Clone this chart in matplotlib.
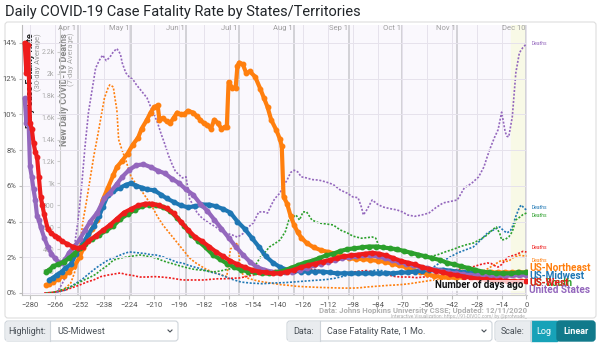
import matplotlib.pyplot as plt
from matplotlib.patches import FancyBboxPatch, Rectangle
from matplotlib.ticker import FuncFormatter, FixedLocator
import matplotlib.transforms as mtransforms

plt.rcParams['font.family'] = ['Roboto', 'DejaVu Sans']

# ---- case fatality rate, 30-day average (%) : (days ago, value) ----
west_cfr = [(-283, 14.0), (-282, 12.3), (-281, 13.9), (-280, 9.5), (-279, 9.2), (-278, 8.4), (-277, 7.9),
            (-276, 7.6), (-275, 6.5), (-274, 5.4), (-273, 4.9), (-272, 4.4), (-270, 3.6), (-268, 3.35),
            (-266, 3.2), (-264, 3.1), (-262, 2.9), (-259, 2.75), (-256, 2.6), (-253, 2.5), (-250, 2.6),
            (-247, 2.9), (-243, 3.2), (-239, 3.5), (-235, 3.8), (-231, 4.15), (-227, 4.5), (-223, 4.7),
            (-219, 4.9), (-215, 5.0), (-211, 5.0), (-207, 4.9), (-203, 4.75), (-199, 4.45), (-195, 4.0),
            (-191, 3.55), (-187, 3.15), (-183, 2.9), (-179, 2.6), (-175, 2.3), (-171, 2.05), (-167, 1.8),
            (-163, 1.6), (-159, 1.45), (-155, 1.3), (-151, 1.2), (-147, 1.15), (-143, 1.1), (-139, 1.1),
            (-135, 1.2), (-131, 1.3), (-127, 1.45), (-123, 1.55), (-119, 1.65), (-115, 1.75), (-111, 1.85),
            (-107, 1.95), (-103, 2.05), (-99, 2.1), (-95, 2.15), (-91, 2.2), (-87, 2.25), (-83, 2.2),
            (-79, 2.1), (-75, 1.95), (-71, 1.8), (-67, 1.7), (-63, 1.6), (-59, 1.45), (-55, 1.35),
            (-51, 1.25), (-47, 1.15), (-43, 1.05), (-39, 1.0), (-35, 0.92), (-31, 0.85), (-27, 0.8),
            (-23, 0.76), (-19, 0.72), (-15, 0.7), (-11, 0.68), (-7, 0.66), (-3, 0.65), (0, 0.65)]

us_cfr = [(-283, 10.9), (-282, 9.5), (-281, 10.3), (-280, 7.1), (-279, 6.5), (-278, 5.8), (-277, 5.2),
          (-276, 4.3), (-275, 4.1), (-274, 3.7), (-272, 3.1), (-270, 2.6), (-268, 2.2), (-266, 1.95),
          (-264, 1.75), (-262, 1.7), (-260, 1.9), (-258, 2.25), (-255, 2.6), (-252, 3.0), (-249, 3.5),
          (-246, 4.0), (-242, 4.5), (-238, 5.3), (-235, 5.6), (-231, 6.1), (-228, 6.5), (-224, 6.9),
          (-220, 7.15), (-216, 7.2), (-212, 7.05), (-208, 6.85), (-204, 6.7), (-200, 6.4), (-196, 6.15),
          (-192, 5.8), (-188, 5.5), (-184, 5.0), (-180, 4.6), (-176, 4.1), (-172, 3.6), (-168, 3.1),
          (-164, 2.6), (-160, 2.15), (-156, 1.75), (-152, 1.45), (-148, 1.3), (-144, 1.2), (-140, 1.15),
          (-136, 1.15), (-132, 1.2), (-128, 1.3), (-124, 1.4), (-120, 1.55), (-116, 1.65), (-112, 1.75),
          (-108, 1.85), (-104, 1.95), (-100, 2.0), (-96, 2.05), (-92, 2.1), (-88, 2.1), (-84, 2.05),
          (-80, 1.95), (-76, 1.85), (-72, 1.75), (-68, 1.65), (-64, 1.55), (-60, 1.45), (-56, 1.4),
          (-52, 1.3), (-48, 1.25), (-44, 1.15), (-40, 1.1), (-36, 1.05), (-32, 1.0), (-28, 0.98),
          (-24, 0.95), (-20, 0.95), (-16, 0.95), (-12, 0.97), (-8, 0.98), (-4, 1.0), (0, 1.0)]

midwest_cfr = [(-269, 0.75), (-267, 0.85), (-265, 1.0), (-262, 1.2), (-260, 1.4), (-257, 1.6), (-254, 2.2),
               (-250, 2.8), (-247, 3.3), (-244, 3.75), (-241, 4.3), (-239, 4.8), (-236, 5.5), (-233, 5.7),
               (-229, 5.9), (-226, 6.05), (-223, 6.15), (-220, 6.0), (-217, 5.9), (-214, 5.8), (-210, 5.75),
               (-206, 5.5), (-203, 5.3), (-199, 5.1), (-195, 4.9), (-191, 4.8), (-187, 4.85), (-183, 4.95),
               (-179, 4.95), (-175, 4.85), (-171, 4.7), (-167, 4.5), (-163, 4.0), (-159, 3.6), (-155, 3.1),
               (-151, 2.6), (-147, 2.05), (-143, 1.7), (-139, 1.45), (-135, 1.3), (-131, 1.25), (-127, 1.2),
               (-123, 1.2), (-119, 1.2), (-115, 1.2), (-111, 1.15), (-107, 1.1), (-103, 1.1), (-99, 1.1),
               (-95, 1.1), (-91, 1.1), (-87, 1.1), (-83, 1.1), (-79, 1.1), (-75, 1.1), (-71, 1.15),
               (-67, 1.15), (-63, 1.2), (-59, 1.25), (-55, 1.3), (-51, 1.3), (-47, 1.3), (-43, 1.25),
               (-39, 1.2), (-35, 1.15), (-31, 1.1), (-27, 1.05), (-23, 1.05), (-19, 1.05), (-15, 1.05),
               (-11, 1.05), (-7, 1.05), (-3, 1.05), (0, 1.05)]

south_cfr = [(-271, 1.2), (-269, 1.3), (-267, 1.5), (-264, 1.6), (-261, 1.75), (-258, 1.95), (-255, 2.2),
             (-252, 2.5), (-249, 2.75), (-245, 3.0), (-241, 3.25), (-237, 3.5), (-233, 3.75), (-229, 4.15),
             (-225, 4.4), (-221, 4.65), (-217, 4.85), (-213, 4.95), (-209, 4.9), (-205, 4.8), (-201, 4.6),
             (-197, 4.2), (-193, 3.75), (-189, 3.25), (-185, 2.9), (-181, 2.55), (-177, 2.15), (-173, 1.9),
             (-169, 1.65), (-165, 1.45), (-161, 1.3), (-157, 1.2), (-153, 1.15), (-149, 1.1), (-145, 1.1),
             (-141, 1.15), (-137, 1.25), (-133, 1.4), (-129, 1.55), (-125, 1.7), (-121, 1.8), (-117, 1.95),
             (-113, 2.1), (-109, 2.2), (-105, 2.35), (-101, 2.45), (-97, 2.5), (-93, 2.55), (-89, 2.6),
             (-85, 2.6), (-81, 2.55), (-77, 2.5), (-73, 2.45), (-69, 2.35), (-65, 2.25), (-61, 2.15),
             (-57, 2.05), (-53, 1.95), (-49, 1.85), (-45, 1.7), (-41, 1.6), (-37, 1.5), (-33, 1.4),
             (-29, 1.3), (-25, 1.2), (-21, 1.15), (-17, 1.1), (-13, 1.1), (-9, 1.1), (-5, 1.15), (0, 1.15)]

northeast_cfr = [(-271, 0.45), (-269, 0.5), (-267, 0.6), (-264, 0.8), (-261, 0.95), (-258, 1.2), (-255, 1.5),
                 (-252, 2.0), (-250, 2.5), (-248, 3.0), (-245, 3.6), (-242, 4.1), (-239, 5.2), (-236, 5.9),
                 (-233, 6.6), (-231, 7.05), (-228, 7.4), (-225, 7.8), (-222, 8.3), (-219, 8.7), (-217, 9.2),
                 (-214, 9.7), (-212, 10.1), (-210, 10.4), (-208, 10.5), (-207, 9.7), (-205, 9.8), (-203, 9.6),
                 (-201, 9.5), (-199, 9.8), (-197, 10.1), (-195, 10.0), (-193, 10.0), (-191, 10.2), (-188, 10.1),
                 (-186, 9.9), (-184, 9.7), (-182, 9.5), (-180, 9.4), (-178, 9.2), (-176, 9.7), (-174, 9.5),
                 (-172, 9.2), (-170, 9.3), (-169, 9.3), (-168, 11.8), (-166, 11.5), (-164, 11.5), (-163, 12.7),
                 (-162, 12.9), (-160, 12.8), (-158, 12.3), (-156, 12.4), (-153, 12.1), (-150, 11.4),
                 (-148, 10.9), (-146, 10.4), (-144, 9.7), (-141, 9.1), (-139, 8.6), (-138, 8.2), (-137, 5.4),
                 (-135, 5.0), (-133, 4.3), (-131, 3.8), (-129, 3.4), (-127, 3.1), (-124, 2.8), (-120, 2.55),
                 (-116, 2.4), (-112, 2.3), (-108, 2.2), (-104, 2.05), (-100, 1.95), (-96, 1.9), (-92, 1.9),
                 (-88, 1.85), (-84, 1.8), (-80, 1.75), (-76, 1.65), (-72, 1.55), (-68, 1.45), (-64, 1.3),
                 (-60, 1.2), (-56, 1.05), (-52, 0.95), (-48, 0.9), (-44, 0.87), (-40, 0.85), (-36, 0.88),
                 (-32, 0.95), (-28, 1.05), (-24, 1.1), (-20, 1.15), (-16, 1.15), (-12, 1.15), (-8, 1.15),
                 (-4, 1.15), (0, 1.15)]

# ---- new daily deaths, 7-day average : (days ago, deaths) ----
us_deaths = [(-265, 0), (-262, 80), (-259, 180), (-257, 280), (-255, 420), (-253, 650), (-251, 950),
             (-249, 1330), (-247, 1650), (-245, 1850), (-243, 2050), (-241, 2120), (-239, 2170), (-237, 2120),
             (-235, 2150), (-233, 2200), (-231, 2230), (-229, 2180), (-228, 2100), (-226, 2010), (-224, 1970),
             (-222, 1950), (-220, 1900), (-217, 1840), (-214, 1780), (-212, 1700), (-210, 1630), (-208, 1550),
             (-206, 1450), (-204, 1360), (-202, 1260), (-200, 1180), (-198, 1110), (-196, 1080), (-194, 1050),
             (-192, 1060), (-190, 860), (-188, 800), (-186, 740), (-184, 700), (-181, 660), (-178, 630),
             (-175, 600), (-172, 570), (-169, 545), (-166, 530), (-163, 510), (-160, 540), (-157, 600),
             (-154, 640), (-151, 740), (-148, 740), (-146, 730), (-144, 800), (-142, 860), (-139, 913),
             (-137, 980), (-135, 1030), (-133, 1100), (-131, 1120), (-129, 1105), (-127, 1060), (-124, 1050),
             (-121, 1035), (-117, 1030), (-113, 1013), (-109, 990), (-105, 940), (-101, 910), (-98, 877),
             (-95, 870), (-93, 780), (-92, 712), (-90, 760), (-87, 849), (-84, 810), (-81, 785), (-77, 770),
             (-73, 758), (-70, 740), (-67, 712), (-63, 700), (-59, 712), (-55, 730), (-51, 780), (-47, 822),
             (-43, 835), (-39, 849), (-35, 960), (-31, 1000), (-27, 1059), (-24, 1150), (-22, 1250),
             (-20, 1340), (-18, 1420), (-16, 1490), (-14, 1650), (-13, 1560), (-12, 1470), (-11, 1430),
             (-10, 1424), (-8, 1607), (-6, 2009), (-4, 2191), (-2, 2240), (0, 2273)]

northeast_deaths = [(-268, 0), (-262, 20), (-259, 60), (-257, 91), (-255, 180), (-253, 300), (-252, 420),
                    (-250, 666), (-248, 849), (-246, 1050), (-244, 1250), (-242, 1420), (-240, 1600),
                    (-238, 1780), (-236, 1870), (-235, 1899), (-233, 1880), (-232, 1770), (-231, 1670),
                    (-230, 1400), (-228, 1300), (-226, 1214), (-223, 1060), (-220, 990), (-217, 930),
                    (-214, 860), (-211, 785), (-208, 694), (-205, 620), (-202, 560), (-199, 500), (-196, 440),
                    (-193, 380), (-190, 320), (-187, 280), (-184, 250), (-181, 220), (-177, 190), (-173, 170),
                    (-169, 150), (-167, 400), (-165, 430), (-163, 456), (-161, 190), (-158, 140), (-154, 120),
                    (-150, 105), (-146, 95), (-142, 85), (-138, 75), (-134, 70), (-130, 62), (-126, 58),
                    (-122, 55), (-118, 52), (-114, 50), (-110, 48), (-106, 46), (-102, 45), (-98, 45),
                    (-94, 48), (-90, 55), (-86, 60), (-82, 65), (-78, 70), (-74, 73), (-70, 78), (-66, 85),
                    (-62, 95), (-58, 105), (-54, 115), (-50, 120), (-46, 130), (-42, 145), (-38, 165),
                    (-34, 175), (-30, 180), (-26, 190), (-22, 220), (-18, 260), (-14, 300), (-12, 290),
                    (-10, 290), (-8, 320), (-6, 330), (-4, 345), (-2, 340), (0, 338)]

midwest_deaths = [(-269, 0), (-266, 5), (-263, 15), (-260, 27), (-257, 60), (-254, 90), (-251, 119),
                  (-248, 160), (-245, 200), (-242, 237), (-239, 270), (-236, 300), (-233, 320), (-230, 340),
                  (-227, 360), (-224, 375), (-221, 370), (-218, 365), (-215, 360), (-212, 350), (-209, 347),
                  (-206, 335), (-203, 320), (-200, 300), (-197, 280), (-194, 274), (-191, 255), (-188, 240),
                  (-185, 228), (-182, 210), (-179, 195), (-176, 183), (-173, 170), (-170, 150), (-167, 130),
                  (-164, 115), (-161, 100), (-158, 95), (-155, 90), (-152, 88), (-149, 85), (-146, 88),
                  (-143, 91), (-140, 93), (-136, 95), (-132, 100), (-128, 105), (-124, 110), (-120, 115),
                  (-116, 119), (-112, 125), (-108, 135), (-104, 150), (-100, 165), (-96, 183), (-92, 192),
                  (-88, 200), (-84, 210), (-80, 200), (-76, 190), (-72, 183), (-68, 183), (-64, 183),
                  (-58, 183), (-54, 220), (-49, 274), (-44, 320), (-39, 365), (-35, 390), (-30, 420),
                  (-26, 480), (-22, 548), (-18, 580), (-15, 603), (-13, 570), (-11, 548), (-9, 570),
                  (-8, 603), (-6, 700), (-4, 780), (-3, 803), (-1, 770), (0, 758)]

south_deaths = [(-271, 0), (-266, 10), (-263, 25), (-260, 40), (-257, 55), (-253, 90), (-250, 115),
                (-247, 137), (-243, 170), (-240, 210), (-236, 255), (-233, 300), (-229, 320), (-225, 329),
                (-221, 340), (-218, 347), (-215, 340), (-212, 329), (-209, 320), (-206, 300), (-203, 283),
                (-199, 265), (-196, 250), (-193, 237), (-190, 225), (-187, 215), (-184, 210), (-181, 205),
                (-177, 192), (-173, 200), (-169, 215), (-165, 228), (-160, 215), (-156, 183), (-153, 250),
                (-150, 329), (-147, 380), (-145, 420), (-142, 450), (-139, 484), (-136, 560), (-134, 666),
                (-132, 690), (-130, 712), (-128, 666), (-126, 740), (-124, 740), (-121, 666), (-117, 639),
                (-113, 630), (-109, 621), (-105, 575), (-101, 548), (-98, 520), (-96, 511), (-93, 500),
                (-90, 505), (-87, 511), (-85, 500), (-83, 420), (-80, 410), (-76, 390), (-72, 380),
                (-68, 365), (-64, 350), (-60, 340), (-55, 329), (-50, 350), (-45, 380), (-41, 400),
                (-38, 420), (-34, 440), (-30, 456), (-26, 490), (-23, 520), (-21, 548), (-19, 580),
                (-17, 603), (-15, 540), (-14, 484), (-12, 490), (-10, 511), (-8, 560), (-6, 666),
                (-4, 690), (-2, 715), (0, 730)]

west_deaths = [(-272, 0), (-268, 5), (-264, 15), (-260, 27), (-256, 50), (-252, 73), (-248, 100), (-244, 120),
               (-240, 150), (-236, 164), (-232, 175), (-229, 183), (-226, 170), (-222, 160), (-218, 146),
               (-214, 146), (-210, 150), (-206, 146), (-202, 140), (-198, 130), (-194, 119), (-190, 119),
               (-186, 119), (-182, 119), (-178, 125), (-174, 130), (-170, 130), (-166, 135), (-162, 137),
               (-158, 150), (-154, 165), (-150, 180), (-146, 195), (-142, 205), (-138, 210), (-134, 225),
               (-130, 237), (-126, 230), (-122, 220), (-118, 210), (-114, 200), (-110, 190), (-106, 183),
               (-102, 185), (-98, 190), (-94, 200), (-90, 205), (-86, 183), (-82, 175), (-78, 165),
               (-74, 150), (-70, 146), (-66, 146), (-62, 140), (-58, 146), (-54, 150), (-50, 160),
               (-46, 180), (-42, 205), (-38, 215), (-34, 230), (-30, 240), (-26, 260), (-22, 274),
               (-20, 270), (-18, 250), (-16, 237), (-14, 260), (-12, 300), (-10, 329), (-8, 340),
               (-6, 350), (-4, 365), (-2, 380), (0, 374)]

regions = ['US-Northeast', 'US-Midwest', 'US-South', 'US-West', 'United States']
region_colors = ['#ff7f0e', '#1f77b4', '#2ca02c', '#ee1c1c', '#9467bd']
cfr_series = [northeast_cfr, midwest_cfr, south_cfr, west_cfr, us_cfr]
death_series = [northeast_deaths, midwest_deaths, south_deaths, west_deaths, us_deaths]
label_y = [1.4, 0.95, 0.55, 0.55, 0.15]          # label placement (CFR %)
deaths_label_dy = [-3, 2, -2, 3, 0]               # offsets (points) for "Deaths" tags

month_days = [-253, -223, -192, -162, -131, -100, -70, -39, 0]
month_labels = ['Apr 1', 'May 1', 'Jun 1', 'Jul 1', 'Aug 1', 'Sep 1', 'Oct 1', 'Nov 1', 'Dec 10']
x_ticks = list(range(-280, 1, 14))
pct_ticks = [0, 2, 4, 6, 8, 10, 12, 14]
death_ticks = [200, 400, 600, 800, 1000, 1200, 1400, 1600, 1800, 2000, 2200]

fig = plt.figure(figsize=(6, 3.43), dpi=100)

# page layer: frame, title, controls (pixel coordinates)
bg = fig.add_axes([0, 0, 1, 1])
bg.set_xlim(0, 600)
bg.set_ylim(343, 0)
bg.axis('off')
bg.add_patch(FancyBboxPatch((5, 22), 591, 296, boxstyle='round,pad=0,rounding_size=3',
                            fc='white', ec='#dedede', lw=0.8))
bg.text(5, 12, 'Daily COVID-19 Case Fatality Rate by States/Territories', fontsize=10.5,
        color='#212529', va='center', ha='left')


def control(x0, x1, x2, label, value):
    bg.add_patch(FancyBboxPatch((x0, 321), x2 - x0, 20, boxstyle='round,pad=0,rounding_size=3',
                                fc='white', ec='#ced4da', lw=0.8))
    bg.add_patch(Rectangle((x0 + 0.5, 321.5), x1 - x0 - 0.5, 19, fc='#e9ecef', ec='none'))
    bg.plot([x1, x1], [321, 341], color='#ced4da', lw=0.8)
    bg.text((x0 + x1) / 2, 331, label, fontsize=6.5, color='#495057', ha='center', va='center')
    if value:
        bg.text(x1 + 7, 331, value, fontsize=6.5, color='#495057', ha='left', va='center')
        bg.plot([x2 - 10, x2 - 8, x2 - 6], [330, 332, 330], color='#495057', lw=0.8)


control(5, 50, 178, 'Highlight:', 'US-Midwest')
control(287, 320, 492, 'Data:', 'Case Fatality Rate, 1 Mo.')
control(495, 531, 560, 'Scale:', None)
bg.add_patch(Rectangle((531, 321), 26, 20, fc='#17a2b8', ec='#17a2b8'))
bg.add_patch(FancyBboxPatch((557, 321), 38, 20, boxstyle='round,pad=0,rounding_size=3',
                            fc='#117a8b', ec='#117a8b'))
bg.text(544, 331, 'Log', fontsize=6.5, color='white', ha='center', va='center')
bg.text(576, 331, 'Linear', fontsize=6.5, color='white', ha='center', va='center', fontweight='bold')

# chart axes: deaths (behind) and CFR (front); plot spans y=25..295 px
axd = fig.add_axes([22 / 600, 1 - 295 / 343, 505 / 600, 270 / 343])
axd.set_facecolor('#faf8fd')
axd.set_xlim(-284.5, 0.3)
axd.set_ylim(-18, 2445)
axc = axd.twinx()
axc.set_ylim(-0.112, 15.0)

axd.axvspan(-9, 0, color='#f8f9e6', zorder=0)
axd.xaxis.set_major_locator(FixedLocator(x_ticks))
axd.grid(axis='x', color='#e6e2ec', lw=0.7)
axd.tick_params(axis='x', labelsize=5.5, colors='#555', length=3, color='#bbb', pad=2)
for d, lab in zip(month_days, month_labels):
    axd.axvline(d, color='#cfcfd4', lw=1.3, zorder=1)
    axd.text(d - 0.8, 0.989, lab, transform=axd.get_xaxis_transform(), ha='right', va='center',
             fontsize=5.5, color='#a0a0a0')

for s in ['top', 'right']:
    axd.spines[s].set_visible(False)
    axc.spines[s].set_visible(False)
axc.spines['bottom'].set_visible(False)
axd.spines['bottom'].set_color('#cccccc')
axd.spines['left'].set_position(('data', -263))
axd.spines['left'].set_color('#cccccc')
axd.yaxis.set_major_locator(FixedLocator(death_ticks))
axd.yaxis.set_major_formatter(FuncFormatter(
    lambda v, p: ('%gk' % (v / 1000)) if v >= 1000 else '%d' % v))
axd.tick_params(axis='y', labelsize=5, colors='#aaaaaa', length=2.5, color='#cccccc', pad=1.5)

axc.yaxis.tick_left()
axc.spines['left'].set_visible(True)
axc.spines['left'].set_color('#bbbbbb')
axc.yaxis.set_major_locator(FixedLocator(pct_ticks))
axc.yaxis.set_major_formatter(FuncFormatter(lambda v, p: '%d%%' % v))
axc.tick_params(axis='y', labelsize=5.5, colors='#555', length=2.5, color='#bbb', pad=1.5)
axc.grid(axis='y', color='#e6e2ec', lw=0.7)
axc.set_axisbelow(True)

# axis titles drawn inside the plot, starting just under the month labels
tx = mtransforms.blended_transform_factory(axd.transData, axd.transAxes)
top = (295 - 33) / 270
axd.text(-279.5, top, 'Daily Case Fatality Rate', transform=tx, rotation=90, ha='center', va='top',
         fontsize=6.5, fontweight='bold', color='#222', zorder=1)
axd.text(-275.5, top, '(30-day Average)', transform=tx, rotation=90, ha='center', va='top',
         fontsize=5.5, color='#999', zorder=1)
axd.text(-260.5, top, 'New Daily COVID-19 Deaths', transform=tx, rotation=90, ha='center', va='top',
         fontsize=6.5, fontweight='bold', color='#888', zorder=1)
axd.text(-256.5, top, '(7-day Average)', transform=tx, rotation=90, ha='center', va='top',
         fontsize=5.5, color='#aaa', zorder=1)

# deaths lines
for series, col, dy in zip(death_series, region_colors, deaths_label_dy):
    days = [p[0] for p in series]
    vals = [p[1] for p in series]
    axd.plot(days, vals, color=col, lw=1.2, ls=(0, (1.2, 1.0)), zorder=3)
    axd.annotate('Deaths', (days[-1], vals[-1]), xytext=(4, dy), textcoords='offset points',
                 fontsize=3.6, color=col, va='center', ha='left', annotation_clip=False)

# CFR lines
draw_order = [0, 1, 4, 2, 3]
for i in draw_order:
    days = [p[0] for p in cfr_series[i]]
    vals = [p[1] for p in cfr_series[i]]
    axc.plot(days, vals, color=region_colors[i], lw=3.0, marker='o', ms=3.2, zorder=4,
             solid_capstyle='round')

for name, col, y in zip(regions, region_colors, label_y):
    axc.text(1.5, y, name, color=col, fontsize=7.2, fontweight='bold', va='center', ha='left',
             clip_on=False)

axc.text(-2, 0.42, 'Number of days ago', fontsize=7, fontweight='bold', color='#111', ha='right',
         va='center', zorder=6, bbox=dict(fc='white', ec='none', alpha=0.75, pad=0.5))

bg.text(527, 310, 'Data: Johns Hopkins University CSSE; Updated: 12/11/2020', fontsize=5.6,
        color='#b0b0b0', ha='right', va='center', fontweight='bold')
bg.text(527, 316.5, 'Interactive Visualization: https://91-DIVOC.com/ by @profwade_', fontsize=3.4,
        color='#b0b0b0', ha='right', va='center')

fig.savefig('out.png', dpi=100)
